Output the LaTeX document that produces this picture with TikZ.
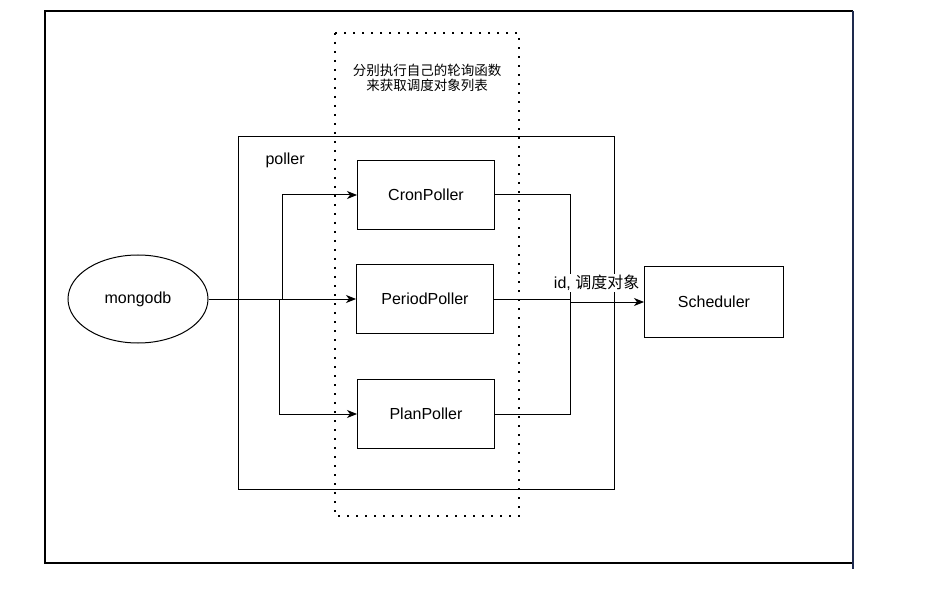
\documentclass[tikz,border=0pt]{standalone}
\usepackage{fontspec}
\setmainfont{Liberation Sans}
\newfontfamily\cjk{Noto Sans CJK SC}
\usepackage{xcolor}
\usetikzlibrary{shapes.geometric, arrows.meta, positioning}
\definecolor{framenavy}{RGB}{30,42,78}

\begin{document}
\begin{tikzpicture}[
    x=1pt, y=-1pt,
    box/.style={rectangle, draw, line width=1pt, minimum width=137pt, minimum height=69pt, font=\fontsize{16}{19}\selectfont, align=center},
    arrow/.style={-{Stealth[length=10pt, width=8pt, inset=3pt]}, line width=1pt},
    wire/.style={line width=1pt},
    edgelabel/.style={font=\fontsize{16}{19}\selectfont, fill=white, inner sep=1pt},
    note/.style={font=\cjk\fontsize{13.5}{15.5}\selectfont, align=center}
]
\useasboundingbox (0,0) rectangle (940,596);

% Outer frame
\draw[line width=2pt] (853,11) -- (45,11) -- (45,563) -- (853,563);
\draw[line width=2pt, framenavy] (853,11) -- (853,569);

% Poller group
\draw[line width=1pt] (238,137) rectangle (614,489);
\node[anchor=west, font=\fontsize{16}{19}\selectfont] (pollerlabel) at (262,160) {poller};

% Dotted band
\draw[line width=2pt, dash pattern=on 2pt off 7pt] (335,33) rectangle (519,516);
\node[note] (polltext) at (427,78) {分别执行自己的轮询函数\\来获取调度对象列表};

% Source and pollers
\node[ellipse, draw, line width=1pt, minimum width=140pt, minimum height=88pt, font=\fontsize{16}{19}\selectfont] (mongo) at (138,299) {mongodb};
\node[box] (cron) at (426,195) {CronPoller};
\node[box] (period) at (425,299) {PeriodPoller};
\node[box] (plan) at (426,414) {PlanPoller};

% Target
\node[box, minimum width=139pt, minimum height=70pt] (sched) at (714,302) {Scheduler};

% Split and merge points
\coordinate (splitcron) at (282,299);
\coordinate (splitplan) at (279,299);
\coordinate (merge) at (570,299);

% Arrows - mongodb to pollers
\draw[arrow] (mongo) -- (period);
\draw[arrow] (mongo) -- (splitcron) |- (cron);
\draw[arrow] (mongo) -- (splitplan) |- (plan);

% Pollers to Scheduler
\draw[wire] (cron) -| (merge);
\draw[wire] (plan) -| (merge);
\draw[wire] (period) -- (merge);
\draw[arrow] (merge |- sched.west) -- (sched.west)
    node[edgelabel, pos=0.36, yshift=19pt] (idlabel) {id, {\cjk 调度对象}};

\end{tikzpicture}
\end{document}
